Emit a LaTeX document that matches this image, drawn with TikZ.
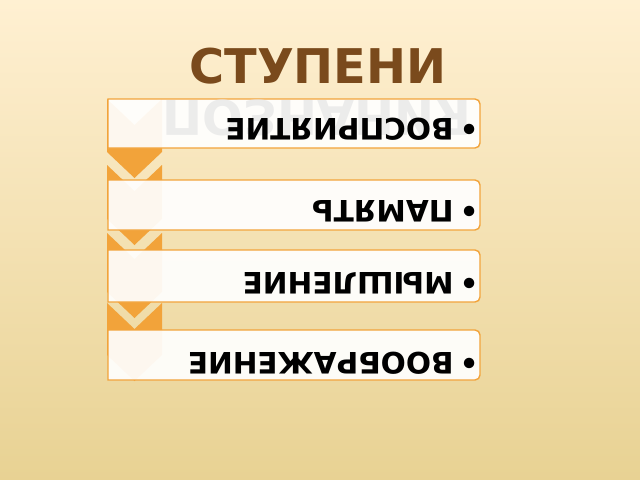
\documentclass[tikz,border=0pt]{standalone}
\usepackage{fontspec}
\setmainfont{DejaVu Sans}
\definecolor{bgtop}{HTML}{FFF0D2}
\definecolor{bgmid}{HTML}{F8E4B6}
\definecolor{bgbot}{HTML}{E8D293}
\definecolor{chevorange}{HTML}{F2A33A}
\definecolor{titlebrown}{HTML}{7A4A1C}
\begin{document}
\begin{tikzpicture}[x=0.025cm, y=-0.025cm,
    chevron/.style={fill=chevorange},
    stagebox/.style={draw=chevorange, line width=1pt, fill=white, fill opacity=0.92},
    stagetext/.style={rotate=180, anchor=base west, inner sep=0pt, font=\fontsize{21}{25}\selectfont\bfseries}]
    \useasboundingbox (0,0) rectangle (640,480);
    \shade[top color=bgtop, middle color=bgmid, bottom color=bgbot] (0,0) rectangle (640,480);
    \node[anchor=base, inner sep=0pt, text=titlebrown, font=\fontsize{34}{40}\selectfont\bfseries] (title) at (318,83) {СТУПЕНИ};
    % chevrons behind the boxes
    \fill[chevron] (107,99) -- (134.5,125) -- (162,99) -- (162,152) -- (134.5,178) -- (107,152) -- cycle;
    \fill[chevron] (107,165) -- (134.5,191) -- (162,165) -- (162,219) -- (134.5,245) -- (107,219) -- cycle;
    \fill[chevron] (107,233) -- (134.5,259) -- (162,233) -- (162,292) -- (134.5,318) -- (107,292) -- cycle;
    \fill[chevron] (107,303) -- (134.5,329) -- (162,303) -- (162,355) -- (134.5,381) -- (107,355) -- cycle;
    % boxes
    \path[stagebox] (108,148) -- (108,99) -- (475,99) to[out=0,in=90] (480,104) -- (480,143) to[out=-90,in=0] (475,148) -- cycle;
    \path[stagebox] (108,230) -- (108,180) -- (475,180) to[out=0,in=90] (480,185) -- (480,225) to[out=-90,in=0] (475,230) -- cycle;
    \path[stagebox] (108,302) -- (108,250) -- (475,250) to[out=0,in=90] (480,255) -- (480,297) to[out=-90,in=0] (475,302) -- cycle;
    \path[stagebox] (108,380) -- (108,330) -- (475,330) to[out=0,in=90] (480,335) -- (480,375) to[out=-90,in=0] (475,380) -- cycle;
    \node[yscale=-1, anchor=base, inner sep=0pt, text=black!9, text opacity=0.8, font=\fontsize{34}{40}\selectfont\bfseries] (subtitle) at (317,100) {ПОЗНАНИЯ};
    \node[stagetext] (perception) at (479,118) {•\hspace{4.5pt}ВОСПРИЯТИЕ};
    \node[stagetext] (memory) at (479,200) {•\hspace{4.5pt}ПАМЯТЬ};
    \node[stagetext] (thinking) at (479,272) {•\hspace{4.5pt}МЫШЛЕНИЕ};
    \node[stagetext] (imagination) at (479,352) {•\hspace{4.5pt}ВООБРАЖЕНИЕ};
\end{tikzpicture}
\end{document}
